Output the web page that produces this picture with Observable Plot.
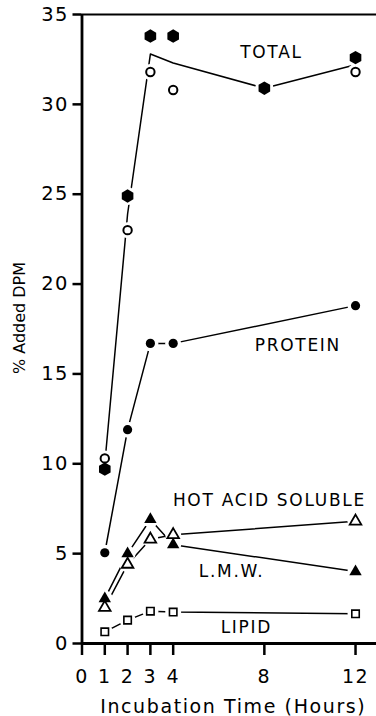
<!DOCTYPE html>
<html><head><meta charset="utf-8">
<script src="https://cdn.jsdelivr.net/npm/d3@7"></script>
<script src="https://cdn.jsdelivr.net/npm/@observablehq/plot@0.6"></script>
<style>
body{margin:0;background:#fff;}
</style></head><body><div id="chart"></div>
<script>
// ---- data ----
const hours = [1, 2, 3, 4, 12];
const totalHours = [1, 2, 3, 4, 8, 12];
const totalFilled = [9.7, 24.9, 33.8, 33.8, 30.9, 32.6];
const totalOpenHours = [1, 2, 3, 4, 12];
const totalOpen = [10.3, 23.0, 31.8, 30.8, 31.8];
const totalLine = [10.0, 23.9, 32.8, 32.3, 30.9, 32.2];
const protein = [5.05, 11.9, 16.7, 16.7, 18.8];
const hotAcidSoluble = [2.0, 4.4, 5.8, 6.05, 6.8];
const lmw = [2.5, 5.0, 6.9, 5.5, 4.0];
const lipid = [0.65, 1.3, 1.8, 1.75, 1.65];
const xTicks = [0, 1, 2, 3, 4, 8, 12];
const yTicks = [0, 5, 10, 15, 20, 25, 30, 35];
const labelText = ["TOTAL", "PROTEIN", "HOT ACID SOLUBLE", "L.M.W.", "LIPID"];
const labelX = [8.31, 9.47, 8.22, 6.56, 7.21];
const labelY = [32.9, 16.6, 7.96, 4.0, 0.9];
const yTitle = "% Added DPM";
const xTitle = "Incubation Time (Hours)";

const pts = (xs, ys) => xs.map((x, i) => ({x, y: ys[i]}));
const labels = labelText.map((t, i) => ({t, x: labelX[i], y: labelY[i]}));

const lineOpts = {x: "x", y: "y", stroke: "black", strokeWidth: 1.5};
const halo = (d, r) => Plot.dot(d, {x: "x", y: "y", r, fill: "white"});

const sTotalF = pts(totalHours, totalFilled);
const sTotalO = pts(totalOpenHours, totalOpen);
const sProt = pts(hours, protein);
const sHot = pts(hours, hotAcidSoluble);
const sLmw = pts(hours, lmw);
const sLip = pts(hours, lipid);

const chart = Plot.plot({
  width: 376, height: 716,
  marginLeft: 81.5, marginRight: 0, marginTop: 14, marginBottom: 73,
  x: {domain: [0, 12.92]},
  y: {domain: [0, 35]},
  style: {fontFamily: "DejaVu Sans", fontSize: "18px", color: "#000", background: "#fff"},
  marks: [
    Plot.axisY({ticks: yTicks, tickSize: 9, tickPadding: 4, strokeWidth: 2.5, label: null, fontSize: 19.5}),
    Plot.axisX({ticks: xTicks, tickSize: 12, tickPadding: 14, strokeWidth: 2.5, label: null, fontSize: 19}),
    Plot.ruleX([0], {strokeWidth: 2.8}),
    Plot.ruleY([0], {strokeWidth: 2.8}),
    Plot.ruleY([35], {strokeWidth: 2.2}),
    Plot.line(pts(totalHours, totalLine), lineOpts),
    Plot.line(sProt, lineOpts),
    Plot.line(sHot, lineOpts),
    Plot.line(sLmw, lineOpts),
    Plot.line(sLip, lineOpts),
    halo(sTotalF, 9), halo(sTotalO, 8), halo(sProt, 8),
    halo(sHot, 8), halo(sLmw, 8), halo(sLip, 8),
    Plot.dot(sTotalF, {x: "x", y: "y", symbol: "hexagon", r: 5.8, fill: "black"}),
    Plot.dot(sTotalO, {x: "x", y: "y", symbol: "circle", r: 4.2, fill: "white", stroke: "black", strokeWidth: 2}),
    Plot.dot(sProt, {x: "x", y: "y", symbol: "circle", r: 4.6, fill: "black"}),
    Plot.dot(sLmw, {x: "x", y: "y", symbol: "triangle", r: 4.6, fill: "black"}),
    Plot.dot(sHot, {x: "x", y: "y", symbol: "triangle", r: 4.3, fill: "white", stroke: "black", strokeWidth: 1.8}),
    Plot.dot(sLip, {x: "x", y: "y", symbol: "square", r: 4.2, fill: "white", stroke: "black", strokeWidth: 1.6}),
    Plot.text(labels, {x: "x", y: "y", text: "t", fontSize: 17, fill: "black"}),
    Plot.text([xTitle], {text: d => d, frameAnchor: "bottom", dx: 4, dy: 63, fontSize: 19, textAnchor: "middle", lineAnchor: "middle"})
  ]
});
d3.select(chart).selectAll("text").each(function () {
  const t = this.textContent;
  if (labelText.includes(t)) this.style.letterSpacing = "1.7px";
  else if (t === xTitle) this.style.letterSpacing = "1.6px";
  else if (/^\d+$/.test(t)) this.style.letterSpacing = "1.5px";
});
d3.select(chart).append("text")
  .attr("transform", "translate(19,318) rotate(-90)")
  .attr("text-anchor", "middle")
  .attr("dy", "0.36em")
  .attr("fill", "black")
  .style("font-family", "DejaVu Sans")
  .style("font-size", "16px")
  .text(yTitle);
document.getElementById("chart").append(chart);
</script>
</body></html>
